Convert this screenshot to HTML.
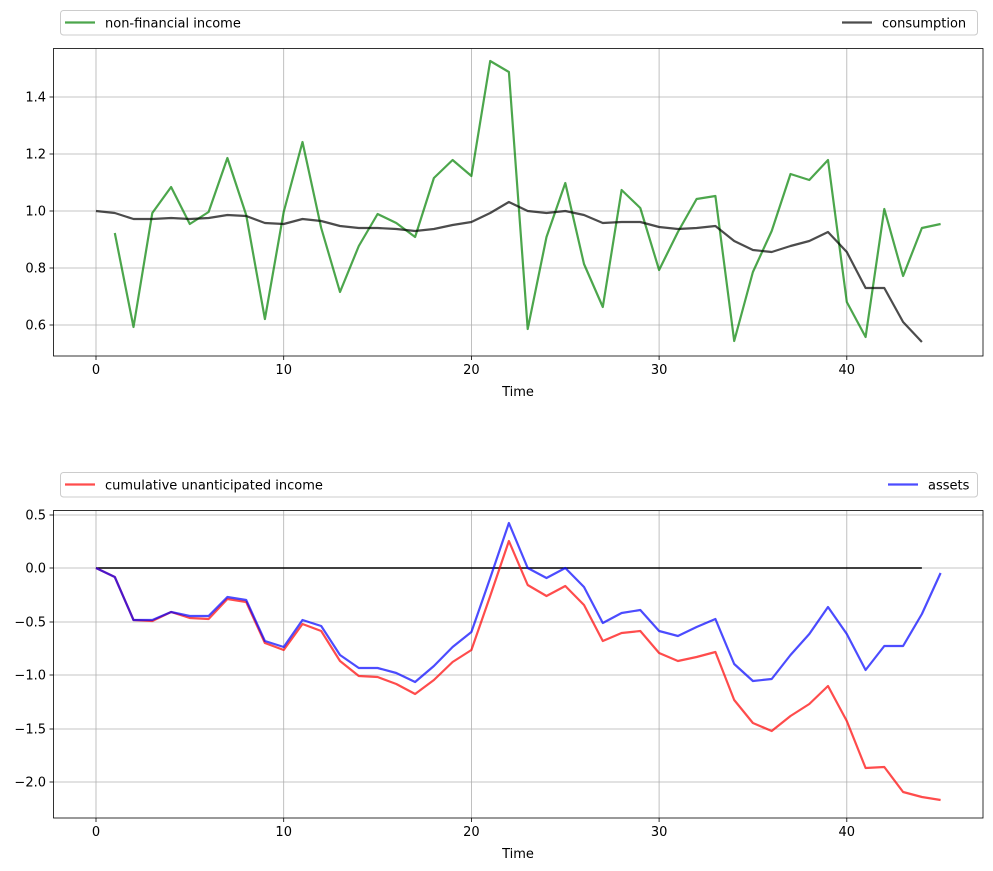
<!DOCTYPE html>
<html><head><meta charset="utf-8"><style>
html,body{margin:0;padding:0;background:#fff}
svg{display:block;font-family:"DejaVu Sans","Liberation Sans",sans-serif}
</style></head><body>
<svg id="s" width="993" height="871" xmlns="http://www.w3.org/2000/svg"></svg>
<script>
const s=document.getElementById('s');
let h='';
const X=t=>96+18.77*t;
function axes(top,bot,yticks){
  for(const t of [0,10,20,30,40]){h+=`<line x1="${X(t)}" x2="${X(t)}" y1="${top}" y2="${bot}" stroke="#b0b0b0" stroke-width="0.8"/>`;
    h+=`<line x1="${X(t)}" x2="${X(t)}" y1="${bot}" y2="${bot+4}" stroke="#000" stroke-width="0.8"/>`;
    h+=`<text x="${X(t)}" y="${bot+18}" font-size="13" text-anchor="middle">${t}</text>`;}
  for(const [y,l] of yticks){h+=`<line x1="53.5" x2="983" y1="${y}" y2="${y}" stroke="#b0b0b0" stroke-width="0.8"/>`;
    h+=`<line x1="49.5" x2="53.5" y1="${y}" y2="${y}" stroke="#000" stroke-width="0.8"/>`;
    h+=`<text x="46" y="${y+4.5}" font-size="13" text-anchor="end">${l}</text>`;}
  h+=`<text x="518" y="${bot+40}" font-size="13" text-anchor="middle">Time</text>`;
}
function frame(top,bot){h+=`<rect x="53.5" y="${top}" width="929.5" height="${bot-top}" fill="none" stroke="#000" stroke-width="0.8"/>`;}
function line(t0,ys,c,op){h+=`<polyline fill="none" stroke="${c}" stroke-opacity="${op}" stroke-width="2.2" stroke-linejoin="round" points="${ys.map((y,i)=>X(t0+i).toFixed(1)+','+y).join(' ')}"/>`;}
function legend(y,l1,c1,l2,c2,lx){
  h+=`<rect x="60.5" y="${y}" width="917" height="24.5" rx="3" fill="#fff" stroke="#ccc" stroke-width="1"/>`;
  h+=`<line x1="65" x2="95" y1="${y+12}" y2="${y+12}" stroke="${c1}" stroke-width="2.2"/>`;
  h+=`<text x="105" y="${y+17}" font-size="13">${l1}</text>`;
  h+=`<line x1="${lx}" x2="${lx+30}" y1="${y+12}" y2="${y+12}" stroke="${c2}" stroke-width="2.2"/>`;
  h+=`<text x="${lx+40}" y="${y+17}" font-size="13">${l2}</text>`;
}
axes(48.5,356,[[97,'1.4'],[154,'1.2'],[211,'1.0'],[268,'0.8'],[325,'0.6']]);
line(1,[233,327,213,187,224,212,158,215,319,212,142,228,292,246,214,223,237,178,160,176,61,72,329,237,183,264,307,190,208,270,232,199,196,341,272,231,174,180,160,302,337,209,276,228,224],'#008000',0.7);
line(0,[211,213,219,219,218,219,218,215,216,223,224,219,221,226,228,228,229,231,229,225,222,213,202,211,213,211,215,223,222,222,227,229,228,226,241,250,252,246,241,232,252,288,288,322,342],'#000',0.7);
frame(48.5,356);
legend(10.5,'non-financial income','rgba(0,128,0,0.7)','consumption','rgba(0,0,0,0.7)',842);
axes(510.5,818,[[515,'0.5'],[568,'0.0'],[622,'−0.5'],[675,'−1.0'],[729,'−1.5'],[782,'−2.0']]);
h+=`<line x1="${X(0)}" x2="${X(44)}" y1="568" y2="568" stroke="#000" stroke-width="1.6"/>`;
line(0,[568,577,620,621,612,618,619,599,602,643,650,624,631,661,676,677,684,694,680,662,650,596,541,585,596,586,605,641,633,631,653,661,657,652,700,723,731,716,704,686,721,768,767,792,797,800],'#f00',0.7);
line(0,[568,577,620,620,612,616,616,597,600,641,647,620,626,655,668,668,673,682,666,647,632,578,523,568,578,568,587,623,613,610,631,636,627,619,664,681,679,655,634,607,634,670,646,646,614,573],'#00f',0.7);
frame(510.5,818);
legend(472.5,'cumulative unanticipated income','rgba(255,0,0,0.7)','assets','rgba(0,0,255,0.7)',888);
s.innerHTML=h;
</script>
</body></html>
